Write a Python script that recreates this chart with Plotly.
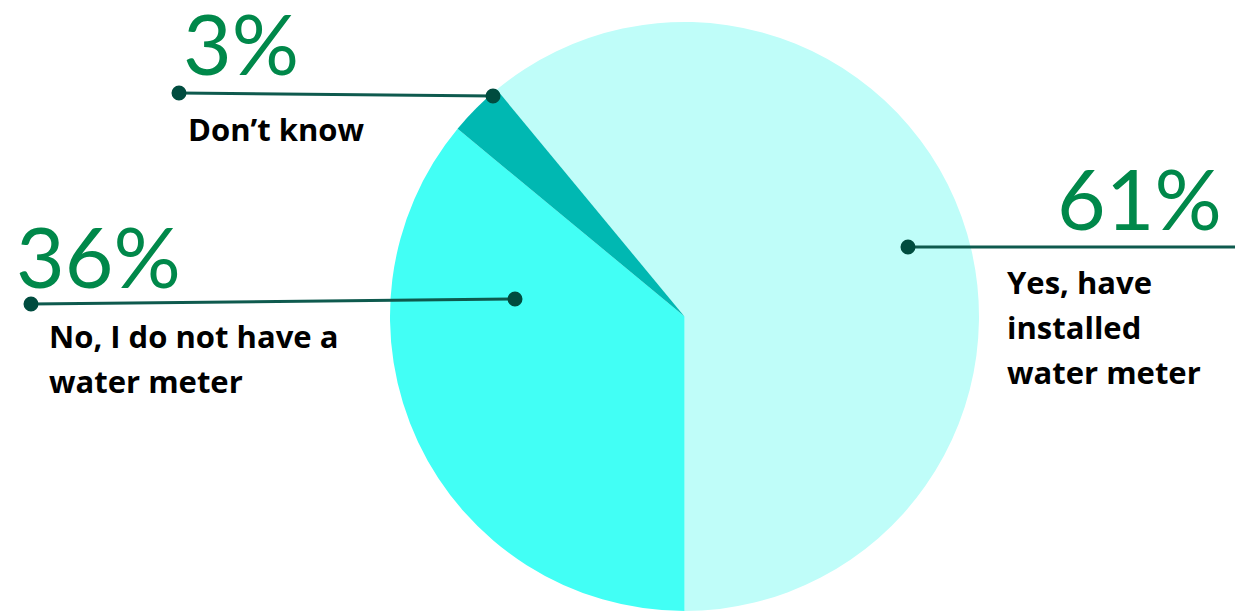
import plotly.graph_objects as go

# Survey answers: does the household have a water meter?
categories = ["Yes, have installed water meter", "No, I do not have a water meter", "Don\u2019t know"]
shares = [61, 36, 3]
pct_labels = ["61%", "36%", "3%"]
label_lines = [
    ["Yes, have", "installed", "water meter"],
    ["No, I do not have a", "water meter"],
    ["Don\u2019t know"],
]

slice_colors = ["#BFFDF9", "#42FFF5", "#00B8B2"]
GREEN = "#00884A"
LINE = "#0E5A4E"
DOT = "#004C3F"

W, H = 1235, 611


def px(x):
    return x / W


def py(y):
    return 1 - y / H


# first slice ends straight down, so the start angle follows from its share
rotation = 180 - 360 * shares[0] / sum(shares)

fig = go.Figure(
    go.Pie(
        labels=categories,
        values=shares,
        sort=False,
        direction="clockwise",
        rotation=rotation,
        marker=dict(colors=slice_colors, line=dict(width=0)),
        textinfo="none",
        hoverinfo="label+percent",
        showlegend=False,
        domain=dict(x=[px(390), px(979)], y=[0, py(22)]),
    )
)

# label placement: (line start, line end, dot ends, percent anchor, text anchor)
callouts = [
    dict(p0=(908, 247), p1=(1240, 247), dots=[(908, 247)],
         pct=(1224, 197, "right"), text=(1005, [282, 327, 372])),
    dict(p0=(31, 304), p1=(515, 299), dots=[(31, 304), (515, 299)],
         pct=(14, 255, "left"), text=(47, [336, 381])),
    dict(p0=(179, 93), p1=(493, 96), dots=[(179, 93), (493, 96)],
         pct=(181, 43, "left"), text=(186, [129])),
]

shapes = []
annotations = []
for i, c in enumerate(callouts):
    shapes.append(dict(type="line", xref="paper", yref="paper",
                       x0=px(c["p0"][0]), y0=py(c["p0"][1]),
                       x1=px(c["p1"][0]), y1=py(c["p1"][1]),
                       line=dict(color=LINE, width=3)))
    for (dx, dy) in c["dots"]:
        shapes.append(dict(type="circle", xref="paper", yref="paper",
                           xsizemode="pixel", ysizemode="pixel",
                           xanchor=px(dx), yanchor=py(dy),
                           x0=-7.5, x1=7.5, y0=-7.5, y1=7.5,
                           fillcolor=DOT, line=dict(width=0)))
    x, y, anchor = c["pct"]
    annotations.append(dict(text=pct_labels[i], xref="paper", yref="paper",
                            x=px(x), y=py(y), xanchor=anchor, yanchor="middle",
                            showarrow=False,
                            font=dict(family="Lato", size=84, color=GREEN)))
    tx, tys = c["text"]
    for line, ty in zip(label_lines[i], tys):
        annotations.append(dict(text=line, xref="paper", yref="paper",
                                x=px(tx), y=py(ty), xanchor="left", yanchor="middle",
                                showarrow=False,
                                font=dict(family="Open Sans", size=31, color="#000000",
                                          weight="bold")))

fig.update_layout(
    width=W, height=H,
    margin=dict(l=0, r=0, t=0, b=0),
    paper_bgcolor="#FFFFFF",
    plot_bgcolor="#FFFFFF",
    shapes=shapes,
    annotations=annotations,
)

fig.write_html("out.html", include_plotlyjs=True, config={"displayModeBar": False})
